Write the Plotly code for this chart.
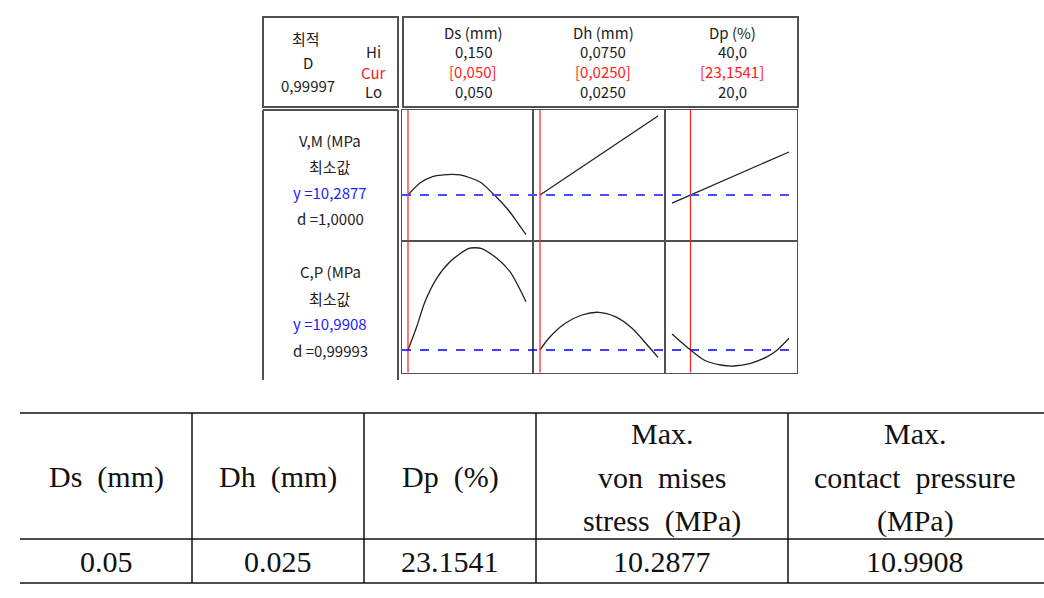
import plotly.graph_objects as go
from plotly.subplots import make_subplots

W, H = 1044, 598

# ---------------- data ----------------
factor_names = ["Ds (mm)", "Dh (mm)", "Dp (%)"]
factor_hi = ["0,150", "0,0750", "40,0"]
factor_cur_label = ["[0,050]", "[0,0250]", "[23,1541]"]
factor_lo = ["0,050", "0,0250", "20,0"]
factor_lo_val = [0.050, 0.025, 20.0]
factor_hi_val = [0.150, 0.075, 40.0]
factor_cur_val = [0.050, 0.025, 23.1541]

resp_names = ["V,M (MPa", "C,P (MPa"]
resp_goal = ["최소값", "최소값"]
resp_y = [10.2877, 10.9908]
resp_y_label = ["y =10,2877", "y =10,9908"]
resp_d_label = ["d =1,0000", "d =0,99993"]
overall_d = "0,99997"

# V.M response vs each factor
vm_ds_x = [0.050, 0.0602, 0.0714, 0.0799, 0.0870, 0.0941, 0.1110, 0.1223, 0.1336, 0.1421, 0.150]
vm_ds_y = [10.2877, 10.5277, 10.6617, 10.690, 10.700, 10.690, 10.5477, 10.3077, 10.0277, 9.7617, 9.4937]
vm_dh_x = [0.025, 0.050, 0.075]
vm_dh_y = [10.2877, 11.0777, 11.8677]
vm_dp_x = [20.0, 23.1541, 40.0]
vm_dp_y = [10.127, 10.2877, 11.148]

# C.P response vs each factor
cp_ds_x = [0.050, 0.0574, 0.0644, 0.0743, 0.0856, 0.1011, 0.1068, 0.1125, 0.1252, 0.1364, 0.150]
cp_ds_y = [10.9908, 11.9228, 12.9228, 13.8588, 14.5228, 15.0500, 15.080, 15.0500, 14.6588, 14.1228, 12.9228]
cp_dh_x = [0.025, 0.0287, 0.0357, 0.0428, 0.0499, 0.0569, 0.0640, 0.0711, 0.075]
cp_dh_y = [10.9908, 11.4588, 12.0588, 12.3908, 12.4988, 12.3228, 11.8588, 11.1228, 10.6988]
cp_dp_x = [20.0, 23.1541, 25.47, 28.32, 30.60, 33.45, 36.29, 38.0, 40.0]
cp_dp_y = [11.6308, 10.9908, 10.5908, 10.3908, 10.3508, 10.4588, 10.7228, 10.9908, 11.4588]

# table
table_headers = [["Ds  (mm)"], ["Dh  (mm)"], ["Dp  (%)"],
                 ["Max.", "von  mises", "stress  (MPa)"],
                 ["Max.", "contact  pressure", "(MPa)"]]
table_values = ["0.05", "0.025", "23.1541", "10.2877", "10.9908"]

# ---------------- layout helpers ----------------
def px(x):
    return x / W

def py(y):
    return 1 - y / H

col_px = [(402, 533), (533, 665), (665, 797)]
row_px = [(110, 241), (241, 372.5)]
x_ranges = [[0.04492, 0.15593], [0.02203, 0.07797], [18.80, 41.37]]
y_ranges = [[9.3677, 11.9877], [10.0908, 15.3508]]

fig = make_subplots(rows=2, cols=3, horizontal_spacing=0, vertical_spacing=0)

curves = [
    [(vm_ds_x, vm_ds_y, "spline"), (vm_dh_x, vm_dh_y, "linear"), (vm_dp_x, vm_dp_y, "linear")],
    [(cp_ds_x, cp_ds_y, "spline"), (cp_dh_x, cp_dh_y, "spline"), (cp_dp_x, cp_dp_y, "spline")],
]

border = "#505050"
for r in range(2):
    for c in range(3):
        xs, ys, shape = curves[r][c]
        fig.add_trace(go.Scatter(x=xs, y=ys, mode="lines",
                                 line=dict(color="#222222", width=1.3, shape=shape, smoothing=0.8),
                                 showlegend=False, hoverinfo="skip"),
                      row=r + 1, col=c + 1)
        fig.update_xaxes(domain=[px(col_px[c][0]), px(col_px[c][1])], range=x_ranges[c],
                         showticklabels=False, showgrid=False, zeroline=False,
                         showline=True, mirror=True, linecolor=border, linewidth=1,
                         ticks="", row=r + 1, col=c + 1)
        fig.update_yaxes(domain=[py(row_px[r][1]), py(row_px[r][0])], range=y_ranges[r],
                         showticklabels=False, showgrid=False, zeroline=False,
                         showline=True, mirror=True, linecolor=border, linewidth=1,
                         ticks="", row=r + 1, col=c + 1)

shapes = []
# red current-setting lines
xrefs = ["x", "x2", "x3"]
for c in range(3):
    shapes.append(dict(type="line", xref=xrefs[c], yref="paper",
                       x0=factor_cur_val[c], x1=factor_cur_val[c],
                       y0=py(372.5), y1=py(110), line=dict(color="#ff2020", width=1.2)))
# blue dashed response lines
blue_cols = ["#4c4cff", "#0000ff"]
blue_w = [2, 1.4]
yrefs = ["y", "y4"]
for r in range(2):
    shapes.append(dict(type="line", xref="paper", yref=yrefs[r],
                       x0=px(402), x1=px(797), y0=resp_y[r], y1=resp_y[r],
                       line=dict(color=blue_cols[r], width=blue_w[r], dash="dash")))

# minitab boxes
def rect(x0, y0, x1, y1):
    return dict(type="rect", xref="paper", yref="paper", x0=px(x0), x1=px(x1),
                y0=py(y1), y1=py(y0), line=dict(color=border, width=2))

shapes.append(rect(263, 17, 398, 107))
shapes.append(rect(403, 17, 798, 107))
for (x0, y0, x1, y1) in [(263, 110, 398, 110), (263, 110, 263, 380), (398, 110, 398, 380)]:
    shapes.append(dict(type="line", xref="paper", yref="paper", x0=px(x0), x1=px(x1),
                       y0=py(y0), y1=py(y1), line=dict(color=border, width=2)))

# table lines
for yy in [413, 539, 583]:
    shapes.append(dict(type="line", xref="paper", yref="paper", x0=px(20), x1=px(1044),
                       y0=py(yy), y1=py(yy), line=dict(color="#111111", width=1.5)))
for xx in [192, 364, 536, 788]:
    shapes.append(dict(type="line", xref="paper", yref="paper", x0=px(xx), x1=px(xx),
                       y0=py(413), y1=py(583), line=dict(color="#111111", width=1.5)))

ann = []
sans = "Noto Sans CJK KR"
fs = 15

def t(text, x, y, color="#222222", size=fs, family=sans):
    ann.append(dict(text=text, x=px(x), y=py(y), xref="paper", yref="paper",
                    xanchor="center", yanchor="middle", showarrow=False,
                    font=dict(family=family, size=size, color=color)))

# optimal D box
t("최적", 306, 39)
t("D", 308, 62)
t(overall_d, 308, 85)
t("Hi", 373, 52)
t("Cur", 373, 72, color="#ff2020")
t("Lo", 373, 91)

# factor header
hdr_x = [473, 603, 732]
for c in range(3):
    t(factor_names[c], hdr_x[c], 33)
    t(factor_hi[c], hdr_x[c], 52)
    t(factor_cur_label[c], hdr_x[c], 71, color="#ff2020")
    t(factor_lo[c], hdr_x[c], 91)

# response labels
row_text_y = [[141, 167, 192, 218], [272, 298, 323, 350]]
for r in range(2):
    ys = row_text_y[r]
    t(resp_names[r], 330, ys[0])
    t(resp_goal[r], 330, ys[1])
    t(resp_y_label[r], 330, ys[2], color="#2222ff")
    t(resp_d_label[r], 330, ys[3])

# table text
serif = "Liberation Serif"
col_centers = [106, 278, 450, 662, 915]
for i, lines in enumerate(table_headers):
    if len(lines) == 1:
        t(lines[0], col_centers[i], 477, color="#111111", size=30, family=serif)
    else:
        for j, ln in enumerate(lines):
            t(ln, col_centers[i], 433 + 44 * j, color="#111111", size=30, family=serif)
for i, v in enumerate(table_values):
    t(v, col_centers[i], 561, color="#111111", size=30, family=serif)

fig.update_layout(width=W, height=H, margin=dict(l=0, r=0, t=0, b=0),
                  paper_bgcolor="white", plot_bgcolor="white",
                  shapes=shapes, annotations=ann, showlegend=False)

fig.write_html("out.html", config={"displayModeBar": False},
               post_script="document.body.style.margin='0px';document.body.style.overflow='hidden';")
